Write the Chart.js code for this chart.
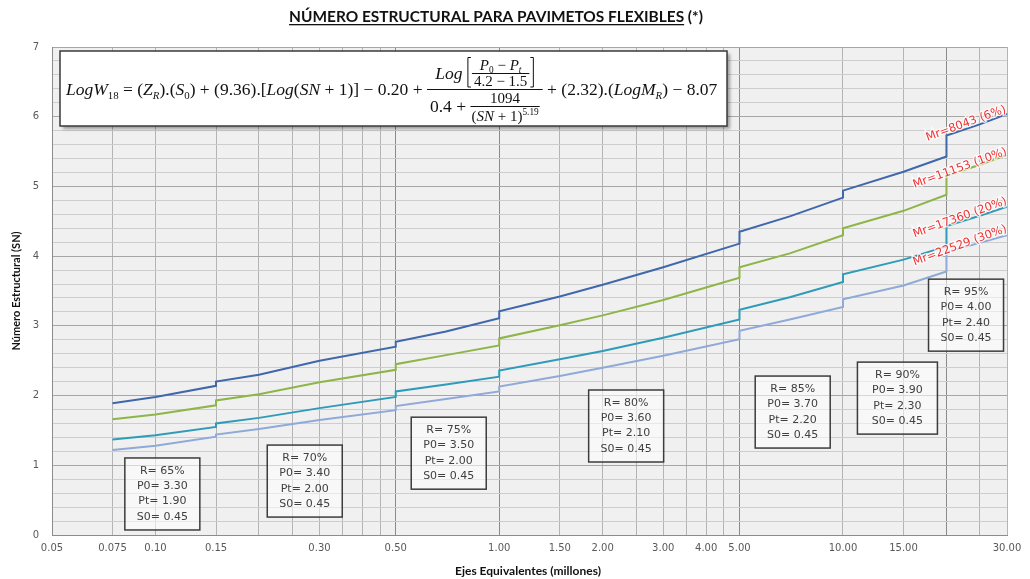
<!DOCTYPE html>
<html>
<head>
<meta charset="utf-8">
<script src="https://cdn.jsdelivr.net/npm/chart.js@4.4.1/dist/chart.umd.min.js"></script>
<style>
  html, body { margin: 0; padding: 0; background: #fff; }
</style>
</head>
<body>
<canvas id="chartCanvas" width="1030" height="579"></canvas>
<script>
// ejes equivalentes (millones) - x repeated where the curves jump
const ejes = [0.075, 0.1, 0.15, 0.15, 0.2, 0.3, 0.5, 0.5, 0.7, 1.0, 1.0, 1.5, 2, 3, 5, 5, 7, 10, 10, 15, 20, 20, 25, 30];
const snMr8043 = [1.89, 1.98, 2.14, 2.20, 2.30, 2.50, 2.70, 2.77, 2.92, 3.11, 3.21, 3.42, 3.59, 3.84, 4.18, 4.35, 4.57, 4.84, 4.94, 5.21, 5.43, 5.73, 5.89, 6.04];
const snMr11153 = [1.66, 1.73, 1.86, 1.93, 2.02, 2.19, 2.37, 2.45, 2.58, 2.72, 2.82, 3.01, 3.15, 3.37, 3.69, 3.84, 4.04, 4.30, 4.40, 4.65, 4.88, 5.15, 5.31, 5.45];
const snMr17360 = [1.37, 1.43, 1.55, 1.60, 1.68, 1.82, 1.98, 2.06, 2.16, 2.27, 2.36, 2.52, 2.64, 2.83, 3.09, 3.23, 3.41, 3.63, 3.74, 3.95, 4.14, 4.43, 4.58, 4.71];
const snMr22529 = [1.22, 1.28, 1.41, 1.44, 1.52, 1.65, 1.79, 1.85, 1.95, 2.06, 2.13, 2.28, 2.40, 2.57, 2.81, 2.93, 3.09, 3.27, 3.38, 3.58, 3.78, 4.06, 4.19, 4.30];
const seriesNames = ["Mr=8043 (6%)", "Mr=11153 (10%)", "Mr=17360 (20%)", "Mr=22529 (30%)"];

// axis ticks
const xGrid = [0.05, 0.075, 0.1, 0.15, 0.2, 0.25, 0.3, 0.35, 0.4, 0.45, 0.5, 1, 1.5, 2, 2.5, 3, 3.5, 4, 4.5, 5, 10, 15, 20, 25, 30];
const xLabelVals = [0.05, 0.075, 0.1, 0.15, 0.3, 0.5, 1, 1.5, 2, 3, 4, 5, 10, 15, 30];
const xLabelText = ["0.05", "0.075", "0.10", "0.15", "0.30", "0.50", "1.00", "1.50", "2.00", "3.00", "4.00", "5.00", "10.00", "15.00", "30.00"];
const xDark = [0.5, 1, 5, 20];
const yLabels = ["0", "1", "2", "3", "4", "5", "6", "7"];

// design parameters per range
const confR = ["65%", "70%", "75%", "80%", "85%", "90%", "95%"];
const confP0 = ["3.30", "3.40", "3.50", "3.60", "3.70", "3.90", "4.00"];
const confPt = ["1.90", "2.00", "2.00", "2.10", "2.20", "2.30", "2.40"];
const confS0 = ["0.45", "0.45", "0.45", "0.45", "0.45", "0.45", "0.45"];

// where the boxes / labels sit (data units: x center, y top)
const boxAt = [[0.1047, 1.105], [0.2718, 1.29], [0.713, 1.69], [2.34, 2.08], [7.14, 2.28], [14.4, 2.48], [22.8, 3.67]];
const labelAt = [[22.8, 5.90], [21.9, 5.26], [21.9, 4.55], [21.9, 4.15]];

const colors = ["#3f67ab", "#8db548", "#2f9bb8", "#8fa9d8"];

function pts(arr) {
  return ejes.map((x, i) => ({ x: x, y: arr[i] }));
}

function drawRun(c, tokens, x, y, size) {
  tokens.forEach(t => {
    const txt = t[0], st = t[1];
    let fs = size, dy = 0;
    if (st.indexOf("sub") === 0) { fs = size * 0.62; dy = size * 0.22; }
    if (st === "sup") { fs = size * 0.62; dy = -size * 0.38; }
    const it = st === "i" || st === "subi";
    c.font = (it ? "italic " : "") + fs + "px 'Liberation Serif'";
    c.fillText(txt, x, y + dy);
    x += c.measureText(txt).width;
  });
  return x;
}
function runWidth(c, tokens, size) {
  let w = 0;
  tokens.forEach(t => {
    const st = t[1];
    let fs = (st.indexOf("sub") === 0 || st === "sup") ? size * 0.62 : size;
    const it = st === "i" || st === "subi";
    c.font = (it ? "italic " : "") + fs + "px 'Liberation Serif'";
    w += c.measureText(t[0]).width;
  });
  return w;
}

function drawFormula(c) {
  const bx = 60, by = 51, bw = 667, bh = 75;
  c.save();
  c.shadowColor = "rgba(0,0,0,0.35)";
  c.shadowOffsetX = 3;
  c.shadowOffsetY = 3;
  c.shadowBlur = 3;
  c.fillStyle = "#fff";
  c.fillRect(bx, by, bw, bh);
  c.restore();
  c.save();
  c.strokeStyle = "#3a3a3a";
  c.lineWidth = 1.5;
  c.strokeRect(bx, by, bw, bh);
  c.fillStyle = "#111";
  c.strokeStyle = "#111";
  c.textAlign = "left";
  c.textBaseline = "alphabetic";
  const S = 17.5;
  const left = [["Log", "i"], ["W", "i"], ["18", "sub"], [" = (", "n"], ["Z", "i"], ["R", "subi"], [").(", "n"], ["S", "i"], ["0", "sub"],
    [") + (9.36).[", "n"], ["Log", "i"], ["(", "n"], ["SN", "i"], [" + 1)] \u2212 0.20 + ", "n"]];
  let x = drawRun(c, left, 66, 95, S);

  // numerator pieces
  const s2 = 15;
  const pTop = [["P", "i"], ["0", "sub"], [" \u2212 ", "n"], ["P", "i"], ["t", "subi"]];
  const pBot = [["4.2 \u2212 1.5", "n"]];
  const logW = runWidth(c, [["Log ", "i"]], S);
  const innerW = Math.max(runWidth(c, pTop, s2), runWidth(c, pBot, s2)) + 4;
  const numW = logW + 5 + innerW + 5;
  // denominator pieces
  const dA = [["0.4 + ", "n"]];
  const dTop = [["1094", "n"]];
  const dBot = [["(", "n"], ["SN", "i"], [" + 1)", "n"], ["5.19", "sup"]];
  const dAW = runWidth(c, dA, S);
  const dInW = Math.max(runWidth(c, dTop, s2), runWidth(c, dBot, s2)) + 2;
  const denW = dAW + dInW;
  const fw = Math.max(numW, denW) + 6;

  c.lineWidth = 1;
  c.beginPath(); c.moveTo(x, 89.5); c.lineTo(x + fw, 89.5); c.stroke();
  // numerator
  let nx = x + (fw - numW) / 2;
  drawRun(c, [["Log ", "i"]], nx, 79, S);
  nx += logW;
  c.beginPath();
  c.moveTo(nx + 4, 57.5); c.lineTo(nx + 1, 57.5); c.lineTo(nx + 1, 87); c.lineTo(nx + 4, 87);
  c.stroke();
  const ix = nx + 5;
  drawRun(c, pTop, ix + (innerW - runWidth(c, pTop, s2)) / 2, 70, s2);
  c.beginPath(); c.moveTo(ix, 73.5); c.lineTo(ix + innerW, 73.5); c.stroke();
  drawRun(c, pBot, ix + (innerW - runWidth(c, pBot, s2)) / 2, 85.5, s2);
  const rx = ix + innerW + 1;
  c.beginPath();
  c.moveTo(rx, 57.5); c.lineTo(rx + 3, 57.5); c.lineTo(rx + 3, 87); c.lineTo(rx, 87);
  c.stroke();
  // denominator
  let dx = x + (fw - denW) / 2;
  drawRun(c, dA, dx, 112, S);
  dx += dAW;
  drawRun(c, dTop, dx + (dInW - runWidth(c, dTop, s2)) / 2, 103, s2);
  c.beginPath(); c.moveTo(dx, 106.5); c.lineTo(dx + dInW, 106.5); c.stroke();
  drawRun(c, dBot, dx + (dInW - runWidth(c, dBot, s2)) / 2, 120.5, s2);

  const right = [[" + (2.32).(", "n"], ["Log", "i"], ["M", "i"], ["R", "subi"], [") \u2212 8.07", "n"]];
  drawRun(c, right, x + fw, 95, S);
  c.restore();
}

const bgPlugin = {
  id: "bg",
  beforeDraw(chart) {
    const c = chart.ctx, a = chart.chartArea;
    c.save();
    c.fillStyle = "#fff";
    c.fillRect(0, 0, chart.width, chart.height);
    c.fillStyle = "#f0f0f0";
    c.fillRect(a.left, a.top, a.right - a.left, a.bottom - a.top);
    c.restore();
  }
};

const notesPlugin = {
  id: "notes",
  afterDraw(chart) {
    const c = chart.ctx;
    const xs = chart.scales.x, ys = chart.scales.y;
    c.save();
    // title
    let fs = 14;
    c.font = "bold " + fs + "px Lato";
    const main = "N\u00daMERO ESTRUCTURAL PARA PAVIMETOS FLEXIBLES";
    const full = main + " (*)";
    fs = fs * 414 / c.measureText(full).width;
    c.font = "bold " + fs + "px Lato";
    const tw = c.measureText(full).width;
    const tx = 496 - tw / 2;
    c.fillStyle = "#111";
    c.textBaseline = "alphabetic";
    c.textAlign = "left";
    c.fillText(full, tx, 22);
    c.fillRect(tx, 24, c.measureText(main).width, 1.3);

    // axis titles
    c.font = "bold 12px Lato";
    c.textAlign = "center";
    c.textBaseline = "middle";
    c.fillText("Ejes Equivalentes (millones)", 528, 571);
    c.save();
    c.translate(16, 291);
    c.rotate(-Math.PI / 2);
    c.font = "bold 11px Lato";
    c.fillText("N\u00famero Estructural (SN)", 0, 0);
    c.restore();

    drawFormula(c);

    // parameter boxes
    c.font = "11px 'DejaVu Sans'";
    c.textAlign = "center";
    c.textBaseline = "middle";
    boxAt.forEach((b, i) => {
      const cx = xs.getPixelForValue(b[0]);
      const top = ys.getPixelForValue(b[1]);
      const w = i === 5 ? 80 : 75, h = 72;
      c.fillStyle = "rgba(255,255,255,0.55)";
      c.fillRect(cx - w / 2, top, w, h);
      c.strokeStyle = "#3c3c3c";
      c.lineWidth = 1.5;
      c.strokeRect(cx - w / 2, top, w, h);
      c.fillStyle = "#404040";
      const lines = ["R= " + confR[i], "P0= " + confP0[i], "Pt= " + confPt[i], "S0= " + confS0[i]];
      lines.forEach((t, k) => c.fillText(t, cx, top + 13 + k * 15.3));
    });

    // curve labels
    c.font = "11.5px 'DejaVu Sans'";
    labelAt.forEach((p, i) => {
      c.save();
      c.translate(xs.getPixelForValue(p[0]), ys.getPixelForValue(p[1]));
      c.rotate(-20 * Math.PI / 180);
      c.lineWidth = 2.5;
      c.strokeStyle = "rgba(255,255,255,0.8)";
      c.strokeText(seriesNames[i], 0, 0);
      c.fillStyle = "#f03030";
      c.fillText(seriesNames[i], 0, 0);
      c.restore();
    });
    c.restore();
  }
};

const ctx = document.getElementById("chartCanvas").getContext("2d");
new Chart(ctx, {
  type: "line",
  data: {
    datasets: [snMr8043, snMr11153, snMr17360, snMr22529].map((arr, i) => ({
      label: seriesNames[i],
      data: pts(arr),
      borderColor: colors[i],
      borderWidth: 2,
      pointRadius: 0,
      fill: false,
      tension: 0
    }))
  },
  options: {
    responsive: false,
    animation: false,
    layout: { padding: { left: 0, right: 23, top: 47, bottom: 0 } },
    plugins: { legend: { display: false }, tooltip: { enabled: false } },
    scales: {
      x: {
        type: "logarithmic",
        min: 0.05,
        max: 30,
        afterBuildTicks: s => { s.ticks = xGrid.map(v => ({ value: v })); },
        afterFit: s => { s.height = 44; },
        ticks: {
          autoSkip: false,
          maxRotation: 0,
          padding: 7,
          color: "#595959",
          font: { family: "DejaVu Sans", size: 10 },
          callback: v => {
            const i = xLabelVals.findIndex(t => Math.abs(t - v) < 1e-9);
            return i >= 0 ? xLabelText[i] : "";
          }
        },
        grid: {
          drawTicks: false,
          color: c => (c.tick && xDark.some(d => Math.abs(d - c.tick.value) < 1e-9)) ? "#8a8a8a" : "#b4b4b4"
        },
        border: { color: "#8c8c8c" }
      },
      y: {
        min: 0,
        max: 7,
        afterBuildTicks: s => {
          const t = [];
          for (let i = 0; i <= 35; i++) t.push({ value: i / 5 });
          s.ticks = t;
        },
        afterFit: s => { s.width = 52; },
        ticks: {
          autoSkip: false,
          padding: 13,
          color: "#595959",
          font: { family: "DejaVu Sans", size: 10 },
          callback: v => {
            const r = Math.round(v);
            return Math.abs(v - r) < 1e-6 ? yLabels[r] : "";
          }
        },
        grid: {
          drawTicks: false,
          color: c => (c.tick && Math.abs(c.tick.value - Math.round(c.tick.value)) < 1e-6) ? "#a6a6a6" : "#cdcdcd"
        },
        border: { color: "#8c8c8c" }
      }
    }
  },
  plugins: [bgPlugin, notesPlugin]
});
</script>
</body>
</html>
